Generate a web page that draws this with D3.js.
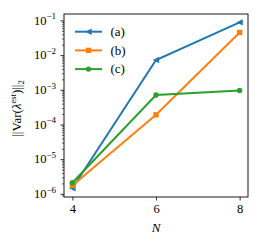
<!DOCTYPE html>
<html>
<head>
<meta charset="utf-8">
<script src="https://cdn.jsdelivr.net/npm/d3@7"></script>
<style>
  body { margin: 0; background: #fff; }
  svg text { font-family: "Liberation Serif", "DejaVu Serif", serif; fill: #000; }
</style>
</head>
<body>
<svg id="chart" width="263" height="244"></svg>
<script>
// data
var nValues = [4, 6, 8];
var seriesA = [1.45e-6, 7.2e-3, 0.088];
var seriesB = [1.75e-6, 1.9e-4, 0.045];
var seriesC = [2.1e-6, 7.1e-4, 9.5e-4];
var seriesNames = ["(a)", "(b)", "(c)"];
var xTicks = [4, 6, 8];
var yExponents = [-6, -5, -4, -3, -2, -1];

var colors = ["#1f77b4", "#ff7f0e", "#2ca02c"];
var markers = ["triangleLeft", "square", "circle"];

var margin = {top: 14, right: 15, bottom: 47, left: 64},
    width = 263 - margin.left - margin.right,
    height = 244 - margin.top - margin.bottom;

var x = d3.scaleLinear().domain([3.8, 8.2]).range([0, width]);
var y = d3.scaleLog().domain([Math.pow(10, -6.09), Math.pow(10, -0.815)]).range([height, 0]);

var svg = d3.select("#chart");
var g = svg.append("g")
    .attr("transform", "translate(" + margin.left + "," + margin.top + ")");

// minor ticks
var minors = [];
yExponents.concat([-7]).forEach(function(e) {
  for (var k = 2; k <= 9; k++) {
    var v = k * Math.pow(10, e);
    if (v >= y.domain()[0] && v <= y.domain()[1]) minors.push(v);
  }
});

g.append("g")
    .call(d3.axisLeft(y).tickValues(minors).tickSize(2).tickFormat(""))
    .call(function(s) { s.select(".domain").remove(); })
    .selectAll("line").attr("stroke-width", 0.6);

var yAxis = g.append("g")
    .call(d3.axisLeft(y).tickValues(yExponents.map(function(e) { return Math.pow(10, e); }))
      .tickSize(3.5).tickFormat(""));
yAxis.select(".domain").remove();
yAxis.selectAll("line").attr("stroke-width", 0.8);

// y tick labels with superscripts
yExponents.forEach(function(e) {
  var t = g.append("text")
      .attr("x", -8)
      .attr("y", y(Math.pow(10, e)) + 4.3)
      .attr("text-anchor", "end")
      .style("font-size", "12.5px");
  t.append("tspan").text("10");
  t.append("tspan").attr("dy", -5.5).style("font-size", "9px").text("\u2212" + (-e));
});

var xAxis = g.append("g")
    .attr("transform", "translate(0," + height + ")")
    .call(d3.axisBottom(x).tickValues(xTicks).tickSize(3.5).tickPadding(4)
      .tickFormat(d3.format("d")));
xAxis.attr("font-family", null).attr("font-size", null);
xAxis.select(".domain").remove();
xAxis.selectAll("line").attr("stroke-width", 0.8);
xAxis.selectAll("text").style("font-size", "12.5px");

// frame
g.append("rect")
    .attr("width", width).attr("height", height)
    .attr("fill", "none").attr("stroke", "#000").attr("stroke-width", 0.9);

// lines and markers
var line = d3.line()
    .x(function(d, i) { return x(nValues[i]); })
    .y(function(d) { return y(d); });

function drawMarker(sel, type, color, cx, cy) {
  if (type === "circle") {
    sel.append("circle").attr("cx", cx).attr("cy", cy).attr("r", 2.7).attr("fill", color);
  } else if (type === "square") {
    sel.append("rect").attr("x", cx - 2.7).attr("y", cy - 2.7)
      .attr("width", 5.4).attr("height", 5.4).attr("fill", color);
  } else {
    sel.append("path")
      .attr("d", "M" + (cx - 3.2) + "," + cy + "L" + (cx + 3.2) + "," + (cy - 3.2) + "L" + (cx + 3.2) + "," + (cy + 3.2) + "Z")
      .attr("fill", color);
  }
}

[seriesA, seriesB, seriesC].forEach(function(s, k) {
  g.append("path")
      .datum(s)
      .attr("d", line)
      .attr("fill", "none")
      .attr("stroke", colors[k])
      .attr("stroke-width", 2);
  s.forEach(function(d, i) {
    drawMarker(g, markers[k], colors[k], x(nValues[i]), y(d));
  });
});

// legend
var legend = svg.append("g");
seriesNames.forEach(function(name, k) {
  var ly = 31.7 + k * 18.7;
  legend.append("line")
      .attr("x1", 75).attr("x2", 102)
      .attr("y1", ly).attr("y2", ly)
      .attr("stroke", colors[k]).attr("stroke-width", 2);
  drawMarker(legend, markers[k], colors[k], 88.5, ly);
  legend.append("text")
      .attr("x", 110.5).attr("y", ly + 4.3)
      .style("font-size", "13px")
      .text(name);
});

// axis labels
svg.append("text")
    .attr("x", margin.left + x(6))
    .attr("y", 232)
    .attr("text-anchor", "middle")
    .style("font-size", "13px")
    .style("font-style", "italic")
    .text("N");

var yl = svg.append("text")
    .attr("transform", "translate(21," + (margin.top + height / 2 + 3) + ") rotate(-90)")
    .attr("text-anchor", "middle")
    .style("font-size", "13px");
yl.append("tspan").text("||Var(");
yl.append("tspan").style("font-style", "italic").text("\u03bb");
yl.append("tspan").attr("dy", -5).style("font-size", "8.5px").text("est");
yl.append("tspan").attr("dy", 5).text(")||");
yl.append("tspan").attr("dy", 3).style("font-size", "8.5px").text("2");
</script>
</body>
</html>
